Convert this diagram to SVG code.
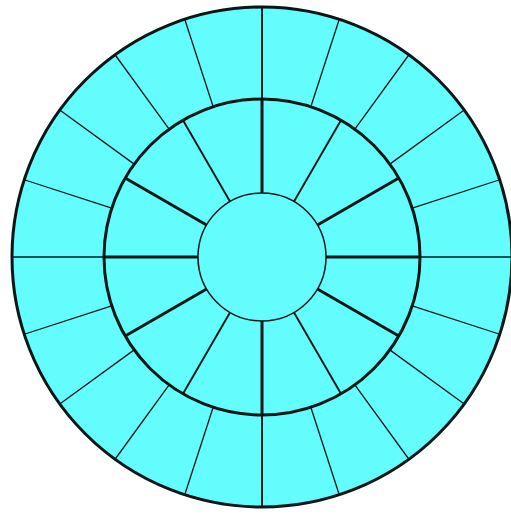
<svg xmlns="http://www.w3.org/2000/svg" xmlns:xlink="http://www.w3.org/1999/xlink" width="511" height="514" viewBox="0 0 511 514">
  <style>
    .ring { fill: #63fdfd; stroke: #0b1717; }
    .thin { stroke: #0b1717; stroke-width: 1.3; }
    .mid { stroke: #0b1717; stroke-width: 1.9; }
    .thick { stroke: #0b1717; stroke-width: 3; }
  </style>
  <defs>
    <line id="o" x1="262" y1="99" x2="262" y2="7"/>
    <line id="i" x1="262" y1="193" x2="262" y2="99"/>
  </defs>
  <rect width="511" height="514" fill="#ffffff"/>
  <g id="outer-ring">
    <circle class="ring" cx="262" cy="257" r="250" stroke-width="3"/>
  </g>
  <g id="connectors">
    <g class="thin">
      <use xlink:href="#o" transform="rotate(18 262 257)"/>
      <use xlink:href="#o" transform="rotate(36 262 257)"/>
      <use xlink:href="#o" transform="rotate(54 262 257)"/>
      <use xlink:href="#o" transform="rotate(72 262 257)"/>
      <use xlink:href="#o" transform="rotate(90 262 257)"/>
      <use xlink:href="#o" transform="rotate(108 262 257)"/>
      <use xlink:href="#o" transform="rotate(126 262 257)"/>
      <use xlink:href="#o" transform="rotate(144 262 257)"/>
      <use xlink:href="#o" transform="rotate(162 262 257)"/>
      <use xlink:href="#o" transform="rotate(198 262 257)"/>
      <use xlink:href="#o" transform="rotate(216 262 257)"/>
      <use xlink:href="#o" transform="rotate(234 262 257)"/>
      <use xlink:href="#o" transform="rotate(252 262 257)"/>
      <use xlink:href="#o" transform="rotate(270 262 257)"/>
      <use xlink:href="#o" transform="rotate(288 262 257)"/>
      <use xlink:href="#o" transform="rotate(306 262 257)"/>
      <use xlink:href="#o" transform="rotate(324 262 257)"/>
      <use xlink:href="#o" transform="rotate(342 262 257)"/>
    </g>
    <g class="mid">
      <use xlink:href="#o"/>
      <use xlink:href="#o" transform="rotate(180 262 257)"/>
      <use xlink:href="#i" transform="rotate(30 262 257)"/>
      <use xlink:href="#i" transform="rotate(150 262 257)"/>
      <use xlink:href="#i" transform="rotate(210 262 257)"/>
      <use xlink:href="#i" transform="rotate(330 262 257)"/>
    </g>
    <g class="thick">
      <use xlink:href="#i"/>
      <use xlink:href="#i" transform="rotate(60 262 257)"/>
      <use xlink:href="#i" transform="rotate(90 262 257)"/>
      <use xlink:href="#i" transform="rotate(120 262 257)"/>
      <use xlink:href="#i" transform="rotate(180 262 257)"/>
      <use xlink:href="#i" transform="rotate(240 262 257)"/>
      <use xlink:href="#i" transform="rotate(270 262 257)"/>
      <use xlink:href="#i" transform="rotate(300 262 257)"/>
    </g>
  </g>
  <g id="middle-ring">
    <circle cx="262" cy="257" r="158" fill="none" stroke="#0b1717" stroke-width="3"/>
  </g>
  <g id="inner-circle">
    <circle class="ring" cx="262" cy="257" r="64" stroke-width="1.5"/>
  </g>
</svg>
